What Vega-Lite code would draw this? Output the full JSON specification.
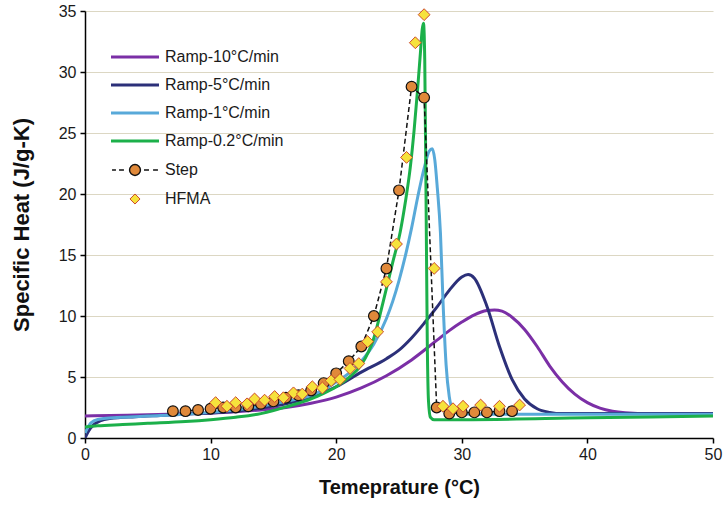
{
  "$schema": "https://vega.github.io/schema/vega-lite/v6.json",
  "width": 628,
  "height": 427,
  "autosize": {"type": "none"},
  "padding": {"left": 85, "top": 11, "right": 14, "bottom": 72},
  "background": "white",
  "config": {"view": {"stroke": null}, "font": "Liberation Sans"},
  "datasets": {
    "ramps": [
      {"series":"Ramp-10°C/min","T":0,"cp":1.8},{"series":"Ramp-10°C/min","T":2,"cp":1.85},{"series":"Ramp-10°C/min","T":5,"cp":1.9},{"series":"Ramp-10°C/min","T":8,"cp":2.0},{"series":"Ramp-10°C/min","T":10,"cp":2.05},{"series":"Ramp-10°C/min","T":12,"cp":2.15},{"series":"Ramp-10°C/min","T":14,"cp":2.3},{"series":"Ramp-10°C/min","T":16,"cp":2.5},{"series":"Ramp-10°C/min","T":18,"cp":2.85},{"series":"Ramp-10°C/min","T":20,"cp":3.35},{"series":"Ramp-10°C/min","T":22,"cp":4.1},{"series":"Ramp-10°C/min","T":24,"cp":5.1},{"series":"Ramp-10°C/min","T":26,"cp":6.4},{"series":"Ramp-10°C/min","T":28,"cp":8.0},{"series":"Ramp-10°C/min","T":29,"cp":8.8},{"series":"Ramp-10°C/min","T":30,"cp":9.5},{"series":"Ramp-10°C/min","T":31,"cp":10.1},{"series":"Ramp-10°C/min","T":32,"cp":10.45},{"series":"Ramp-10°C/min","T":32.6,"cp":10.5},{"series":"Ramp-10°C/min","T":33.2,"cp":10.4},{"series":"Ramp-10°C/min","T":34,"cp":9.9},{"series":"Ramp-10°C/min","T":35,"cp":8.9},{"series":"Ramp-10°C/min","T":36,"cp":7.5},{"series":"Ramp-10°C/min","T":37,"cp":5.9},{"series":"Ramp-10°C/min","T":38,"cp":4.6},{"series":"Ramp-10°C/min","T":39,"cp":3.6},{"series":"Ramp-10°C/min","T":40,"cp":2.9},{"series":"Ramp-10°C/min","T":41,"cp":2.45},{"series":"Ramp-10°C/min","T":42,"cp":2.2},{"series":"Ramp-10°C/min","T":43,"cp":2.08},{"series":"Ramp-10°C/min","T":45,"cp":2.0},{"series":"Ramp-10°C/min","T":50,"cp":2.0},
      {"series":"Ramp-5°C/min","T":0,"cp":0},{"series":"Ramp-5°C/min","T":0.3,"cp":0.6},{"series":"Ramp-5°C/min","T":0.7,"cp":1.1},{"series":"Ramp-5°C/min","T":1.2,"cp":1.4},{"series":"Ramp-5°C/min","T":2,"cp":1.6},{"series":"Ramp-5°C/min","T":4,"cp":1.75},{"series":"Ramp-5°C/min","T":6,"cp":1.85},{"series":"Ramp-5°C/min","T":8,"cp":1.95},{"series":"Ramp-5°C/min","T":10,"cp":2.05},{"series":"Ramp-5°C/min","T":12,"cp":2.2},{"series":"Ramp-5°C/min","T":14,"cp":2.45},{"series":"Ramp-5°C/min","T":16,"cp":2.8},{"series":"Ramp-5°C/min","T":18,"cp":3.35},{"series":"Ramp-5°C/min","T":20,"cp":4.2},{"series":"Ramp-5°C/min","T":22,"cp":5.4},{"series":"Ramp-5°C/min","T":24,"cp":6.5},{"series":"Ramp-5°C/min","T":25,"cp":7.2},{"series":"Ramp-5°C/min","T":26,"cp":8.2},{"series":"Ramp-5°C/min","T":27,"cp":9.4},{"series":"Ramp-5°C/min","T":28,"cp":10.7},{"series":"Ramp-5°C/min","T":29,"cp":12.1},{"series":"Ramp-5°C/min","T":30,"cp":13.2},{"series":"Ramp-5°C/min","T":30.5,"cp":13.4},{"series":"Ramp-5°C/min","T":31,"cp":13.1},{"series":"Ramp-5°C/min","T":32,"cp":10.8},{"series":"Ramp-5°C/min","T":33,"cp":7.5},{"series":"Ramp-5°C/min","T":34,"cp":4.8},{"series":"Ramp-5°C/min","T":35,"cp":3.2},{"series":"Ramp-5°C/min","T":36,"cp":2.4},{"series":"Ramp-5°C/min","T":37,"cp":2.1},{"series":"Ramp-5°C/min","T":38,"cp":2.0},{"series":"Ramp-5°C/min","T":50,"cp":2.0},
      {"series":"Ramp-1°C/min","T":0,"cp":0.4},{"series":"Ramp-1°C/min","T":0.3,"cp":1.0},{"series":"Ramp-1°C/min","T":0.7,"cp":1.4},{"series":"Ramp-1°C/min","T":1.5,"cp":1.6},{"series":"Ramp-1°C/min","T":3,"cp":1.7},{"series":"Ramp-1°C/min","T":5,"cp":1.8},{"series":"Ramp-1°C/min","T":8,"cp":1.95},{"series":"Ramp-1°C/min","T":10,"cp":2.1},{"series":"Ramp-1°C/min","T":12,"cp":2.3},{"series":"Ramp-1°C/min","T":14,"cp":2.6},{"series":"Ramp-1°C/min","T":16,"cp":3.0},{"series":"Ramp-1°C/min","T":18,"cp":3.5},{"series":"Ramp-1°C/min","T":19,"cp":3.95},{"series":"Ramp-1°C/min","T":20,"cp":4.6},{"series":"Ramp-1°C/min","T":21,"cp":5.3},{"series":"Ramp-1°C/min","T":22,"cp":6.3},{"series":"Ramp-1°C/min","T":23,"cp":7.7},{"series":"Ramp-1°C/min","T":24,"cp":9.8},{"series":"Ramp-1°C/min","T":24.5,"cp":11.2},{"series":"Ramp-1°C/min","T":25,"cp":12.9},{"series":"Ramp-1°C/min","T":25.5,"cp":14.9},{"series":"Ramp-1°C/min","T":26,"cp":17.2},{"series":"Ramp-1°C/min","T":26.5,"cp":19.8},{"series":"Ramp-1°C/min","T":27,"cp":22.1},{"series":"Ramp-1°C/min","T":27.4,"cp":23.5},{"series":"Ramp-1°C/min","T":27.65,"cp":23.7},{"series":"Ramp-1°C/min","T":27.85,"cp":22.8},{"series":"Ramp-1°C/min","T":28.05,"cp":20.5},{"series":"Ramp-1°C/min","T":28.3,"cp":16.8},{"series":"Ramp-1°C/min","T":28.5,"cp":11.3},{"series":"Ramp-1°C/min","T":28.75,"cp":6.0},{"series":"Ramp-1°C/min","T":29.0,"cp":3.4},{"series":"Ramp-1°C/min","T":29.3,"cp":2.3},{"series":"Ramp-1°C/min","T":29.7,"cp":2.0},{"series":"Ramp-1°C/min","T":31,"cp":1.95},{"series":"Ramp-1°C/min","T":40,"cp":1.95},{"series":"Ramp-1°C/min","T":50,"cp":1.95},
      {"series":"Ramp-0.2°C/min","T":0,"cp":0.9},{"series":"Ramp-0.2°C/min","T":1,"cp":1.0},{"series":"Ramp-0.2°C/min","T":3,"cp":1.1},{"series":"Ramp-0.2°C/min","T":5,"cp":1.2},{"series":"Ramp-0.2°C/min","T":8,"cp":1.35},{"series":"Ramp-0.2°C/min","T":10,"cp":1.5},{"series":"Ramp-0.2°C/min","T":12,"cp":1.7},{"series":"Ramp-0.2°C/min","T":14,"cp":2.0},{"series":"Ramp-0.2°C/min","T":15,"cp":2.25},{"series":"Ramp-0.2°C/min","T":16,"cp":2.55},{"series":"Ramp-0.2°C/min","T":17,"cp":2.85},{"series":"Ramp-0.2°C/min","T":18,"cp":3.2},{"series":"Ramp-0.2°C/min","T":19,"cp":3.65},{"series":"Ramp-0.2°C/min","T":20,"cp":4.2},{"series":"Ramp-0.2°C/min","T":21,"cp":4.95},{"series":"Ramp-0.2°C/min","T":22,"cp":6.0},{"series":"Ramp-0.2°C/min","T":23,"cp":8.2},{"series":"Ramp-0.2°C/min","T":23.7,"cp":11.0},{"series":"Ramp-0.2°C/min","T":24.5,"cp":14.4},{"series":"Ramp-0.2°C/min","T":25.1,"cp":16.9},{"series":"Ramp-0.2°C/min","T":25.5,"cp":19.3},{"series":"Ramp-0.2°C/min","T":25.9,"cp":22.2},{"series":"Ramp-0.2°C/min","T":26.2,"cp":25.2},{"series":"Ramp-0.2°C/min","T":26.45,"cp":28.2},{"series":"Ramp-0.2°C/min","T":26.7,"cp":31.5},{"series":"Ramp-0.2°C/min","T":26.85,"cp":33.5},{"series":"Ramp-0.2°C/min","T":26.95,"cp":34.0},{"series":"Ramp-0.2°C/min","T":27.05,"cp":31.0},{"series":"Ramp-0.2°C/min","T":27.15,"cp":20.0},{"series":"Ramp-0.2°C/min","T":27.25,"cp":8.0},{"series":"Ramp-0.2°C/min","T":27.35,"cp":3.0},{"series":"Ramp-0.2°C/min","T":27.5,"cp":1.7},{"series":"Ramp-0.2°C/min","T":27.8,"cp":1.5},{"series":"Ramp-0.2°C/min","T":30,"cp":1.5},{"series":"Ramp-0.2°C/min","T":40,"cp":1.65},{"series":"Ramp-0.2°C/min","T":50,"cp":1.8}
    ],
    "step": [
      {"series":"Step","T":7,"cp":2.2},{"series":"Step","T":8,"cp":2.2},{"series":"Step","T":9,"cp":2.3},{"series":"Step","T":10,"cp":2.4},{"series":"Step","T":11,"cp":2.5},{"series":"Step","T":12,"cp":2.5},{"series":"Step","T":13,"cp":2.6},{"series":"Step","T":14,"cp":2.8},{"series":"Step","T":15,"cp":3.0},{"series":"Step","T":16,"cp":3.3},{"series":"Step","T":17,"cp":3.5},{"series":"Step","T":18,"cp":3.9},{"series":"Step","T":19,"cp":4.5},{"series":"Step","T":20,"cp":5.3},{"series":"Step","T":21,"cp":6.3},{"series":"Step","T":22,"cp":7.5},{"series":"Step","T":23,"cp":10.0},{"series":"Step","T":24,"cp":13.9},{"series":"Step","T":25,"cp":20.3},{"series":"Step","T":26,"cp":28.8},{"series":"Step","T":27,"cp":27.9},{"series":"Step","T":28,"cp":2.5},{"series":"Step","T":29,"cp":2.0},{"series":"Step","T":30,"cp":2.1},{"series":"Step","T":31,"cp":2.1},{"series":"Step","T":32,"cp":2.1},{"series":"Step","T":33,"cp":2.2},{"series":"Step","T":34,"cp":2.2}
    ],
    "hfma": [
      {"series":"HFMA","T":10.4,"cp":2.9},{"series":"HFMA","T":11.3,"cp":2.6},{"series":"HFMA","T":12.0,"cp":2.9},{"series":"HFMA","T":12.9,"cp":2.8},{"series":"HFMA","T":13.5,"cp":3.2},{"series":"HFMA","T":14.3,"cp":3.1},{"series":"HFMA","T":15.1,"cp":3.4},{"series":"HFMA","T":15.8,"cp":3.3},{"series":"HFMA","T":16.6,"cp":3.7},{"series":"HFMA","T":17.3,"cp":3.6},{"series":"HFMA","T":18.1,"cp":4.2},{"series":"HFMA","T":18.9,"cp":4.1},{"series":"HFMA","T":19.6,"cp":4.7},{"series":"HFMA","T":20.3,"cp":4.8},{"series":"HFMA","T":21.1,"cp":5.7},{"series":"HFMA","T":21.8,"cp":6.1},{"series":"HFMA","T":22.5,"cp":7.9},{"series":"HFMA","T":23.3,"cp":8.7},{"series":"HFMA","T":24.0,"cp":12.8},{"series":"HFMA","T":24.8,"cp":15.9},{"series":"HFMA","T":25.6,"cp":23.0},{"series":"HFMA","T":26.3,"cp":32.4},{"series":"HFMA","T":27.0,"cp":34.7},{"series":"HFMA","T":27.8,"cp":13.9},{"series":"HFMA","T":28.5,"cp":2.6},{"series":"HFMA","T":29.3,"cp":2.4},{"series":"HFMA","T":30.1,"cp":2.6},{"series":"HFMA","T":31.5,"cp":2.7},{"series":"HFMA","T":33.0,"cp":2.6},{"series":"HFMA","T":34.6,"cp":2.7}
    ]
  },
  "encoding": {
    "x": {"field": "T", "type": "quantitative", "scale": {"domain": [0, 50], "nice": false},
      "axis": {"title": "Temeprature (°C)", "values": [0,10,20,30,40,50], "grid": false, "domainColor": "#000", "domainWidth": 1.5, "tickColor": "#000", "tickWidth": 1.5, "tickSize": 5, "labelFontSize": 16, "labelColor": "#1a1a1a", "labelPadding": 3, "titleFontSize": 20, "titleFontWeight": "bold", "titleColor": "#111", "titlePadding": 15, "labelFlush": false}},
    "y": {"field": "cp", "type": "quantitative", "scale": {"domain": [0, 35], "nice": false},
      "axis": {"title": "Specific Heat (J/g-K)", "values": [0,5,10,15,20,25,30,35], "grid": true, "gridColor": "#dcd7c3", "gridWidth": 1.2, "domainColor": "#000", "domainWidth": 1.5, "tickColor": "#000", "tickWidth": 1.5, "tickSize": 5, "labelFontSize": 16, "labelColor": "#1a1a1a", "labelPadding": 4, "titleFontSize": 22, "titleFontWeight": "bold", "titleColor": "#111", "titlePadding": 25, "labelFlush": false}}
  },
  "layer": [
    {
      "data": {"name": "ramps"},
      "mark": {"type": "line", "strokeWidth": 3, "interpolate": "monotone", "clip": true},
      "encoding": {
        "color": {"field": "series", "type": "nominal",
          "scale": {"domain": ["Ramp-10°C/min","Ramp-5°C/min","Ramp-1°C/min","Ramp-0.2°C/min","Step","HFMA"], "range": ["#7b2fa6","#2c3079","#58a9d9","#1cb04a","#111111","#cc4a2c"]},
          "legend": {"title": null, "orient": "none", "legendX": 42, "legendY": 38, "padding": 0, "rowPadding": 12, "symbolSize": 784, "labelOffset": 22, "labelFontSize": 16, "labelColor": "#1a1a1a", "labelLimit": 300,
            "encode": {"symbols": {"update": {
              "shape": {"signal": "datum.value === 'Step' ? 'M-1.64,0H-1.36M-1.14,0H-0.79M0.64,0H1M1.29,0H1.64M0.39,0A0.39,0.39 0 1,1 -0.39,0A0.39,0.39 0 1,1 0.39,0Z' : datum.value === 'HFMA' ? 'M0,-0.36L0.36,0L0,0.36L-0.36,0Z' : 'M-1.714,0H1.714'"},
              "fill": {"signal": "datum.value === 'Step' ? '#e0893a' : datum.value === 'HFMA' ? '#f6e23c' : 'transparent'"},
              "stroke": {"signal": "datum.value === 'Step' ? '#111111' : datum.value === 'HFMA' ? '#cc4a2c' : datum.value === 'Ramp-10°C/min' ? '#7b2fa6' : datum.value === 'Ramp-5°C/min' ? '#2c3079' : datum.value === 'Ramp-1°C/min' ? '#58a9d9' : '#1cb04a'"},
              "strokeWidth": {"signal": "datum.value === 'Step' ? 1.4 : datum.value === 'HFMA' ? 1 : 3"},
              "size": {"value": 784},
              "opacity": {"value": 1}
            }}}
          }
        }
      }
    },
    {
      "data": {"name": "step"},
      "mark": {"type": "line", "strokeWidth": 1.5, "strokeDash": [5, 3]},
      "encoding": {"color": {"field": "series", "type": "nominal"}}
    },
    {
      "data": {"name": "step"},
      "mark": {"type": "point", "shape": "circle", "filled": true, "fill": "#e0893a", "stroke": "#111111", "strokeWidth": 1.2, "size": 115, "opacity": 1}
    },
    {
      "data": {"name": "hfma"},
      "mark": {"type": "point", "shape": "diamond", "filled": true, "fill": "#f6e23c", "stroke": "#cc4a2c", "strokeWidth": 1, "size": 140, "opacity": 1}
    }
  ]
}
